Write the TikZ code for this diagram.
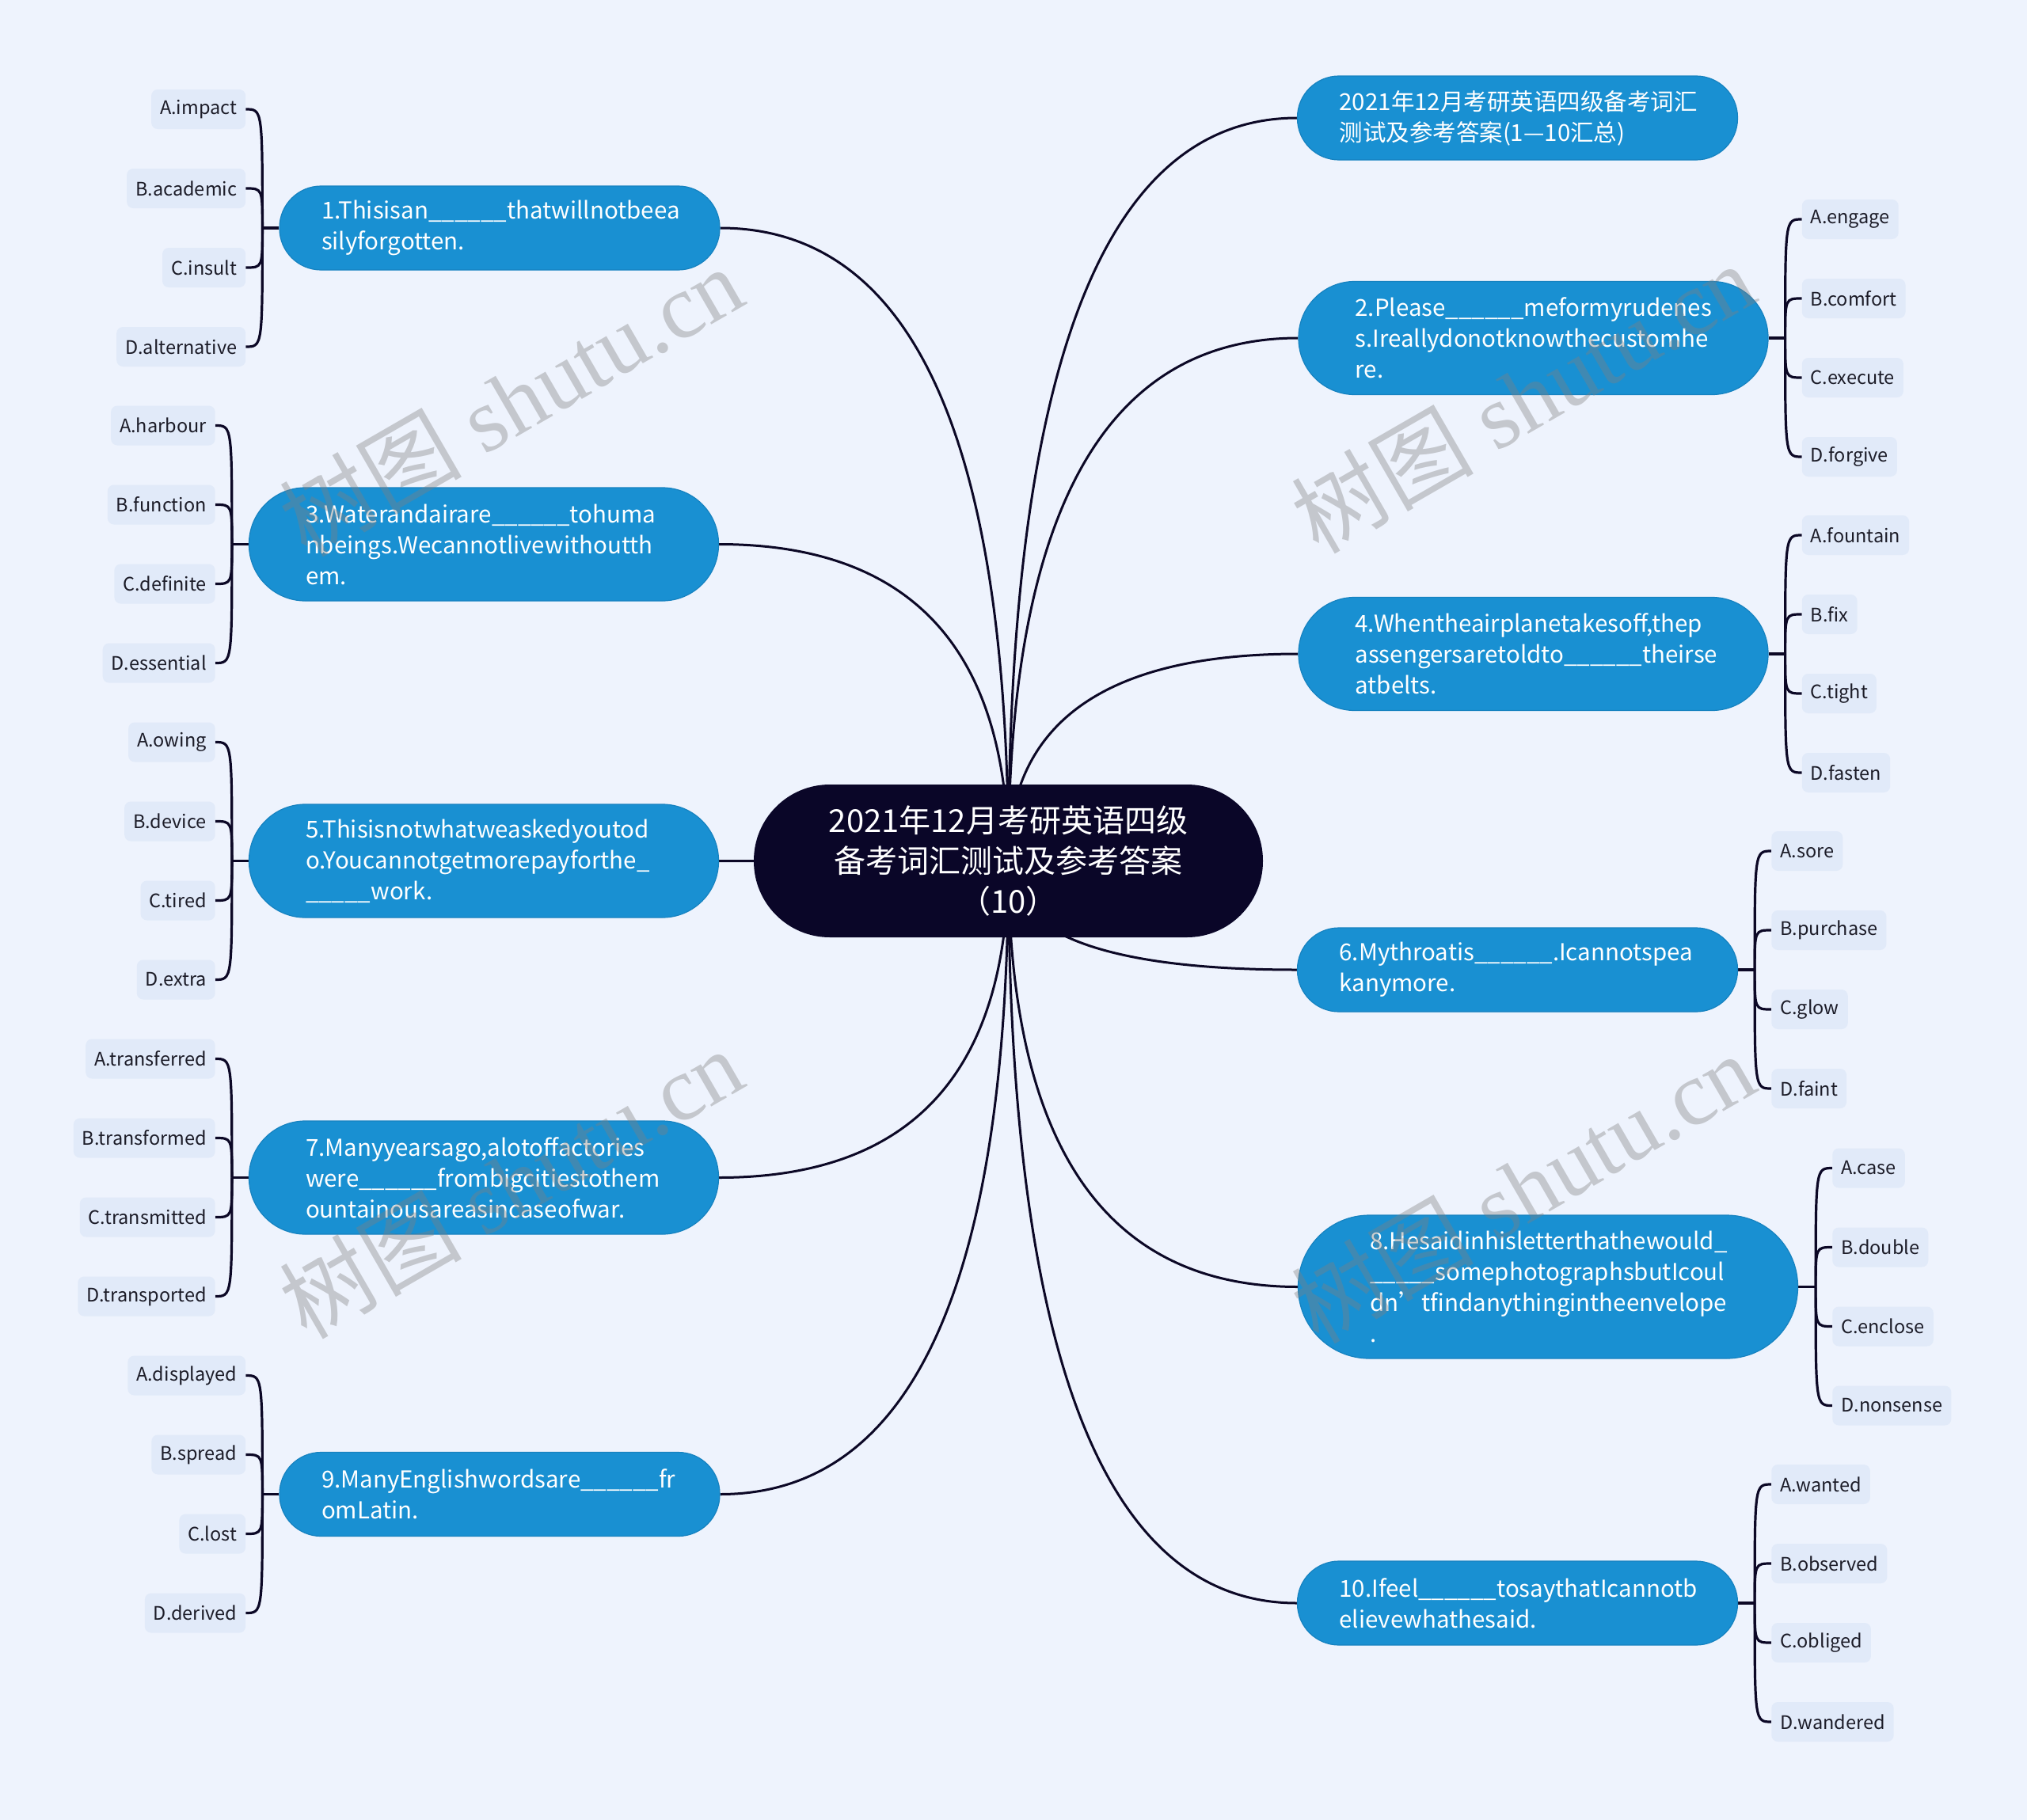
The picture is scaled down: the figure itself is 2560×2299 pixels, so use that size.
\documentclass[tikz,border=0pt]{standalone}
\usepackage{fontspec}
\setmainfont{Noto Sans CJK SC}
\newfontfamily\wmlat{Liberation Serif}
\newfontfamily\wmcjk{Noto Sans CJK SC}
\usetikzlibrary{calc}
\definecolor{bgc}{RGB}{238,243,253}
\definecolor{topicblue}{RGB}{25,144,210}
\definecolor{topicedge}{RGB}{22,130,192}
\definecolor{rootc}{RGB}{10,6,40}
\definecolor{linec}{RGB}{12,8,38}
\definecolor{leaffill}{RGB}{225,234,249}
\definecolor{leaftext}{RGB}{28,28,40}
\pgfdeclarelayer{bglayer}
\pgfdeclarelayer{edges}
\pgfsetlayers{bglayer,edges,main}
\newcommand\myblank{\_\_\_\_\_\_}
% #1 = root centre, #2 = topic anchor; bend corner at (root x, topic y)
\newcommand\mainlink[2]{\draw[conn] (#1) .. controls ($(#1)!0.6667!(#1|-#2)$) and ($(#2)!0.6667!(#1|-#2)$) .. (#2);}
\newcommand\leaflink[2]{\draw[bracec] (#1) .. controls (#1|-#2) .. (#2);}
\tikzset{
  topic/.style={fill=topicblue, draw=topicedge, line width=1.2pt, text=white, align=left,
    text width=450pt, inner ysep=0pt, font=\fontsize{29.5}{39}\selectfont},
  twol/.style={minimum height=106pt, inner xsep=53pt, rounded corners=52.5pt},
  threel/.style={minimum height=143pt, inner xsep=71.5pt, rounded corners=71pt},
  fourl/.style={minimum height=181pt, inner xsep=90.5pt, rounded corners=90pt},
  rootbox/.style={fill=rootc, text=white, align=center, minimum width=643pt, minimum height=193pt,
    rounded corners=96pt, inner sep=0pt, font=\fontsize{40}{51}\selectfont},
  leaf/.style={fill=leaffill, text=leaftext, rounded corners=8pt, minimum height=50pt,
    inner xsep=11pt, inner ysep=0pt, font=\fontsize{23.5}{28}\selectfont},
  conn/.style={draw=linec, line width=3pt},
  bracec/.style={draw=linec, line width=3.2pt},
  wm/.style={text=gray, opacity=0.38, font=\wmlat\fontsize{115}{115}\selectfont, rotate=30}
}
\begin{document}
\begin{tikzpicture}[x=1pt,y=-1pt]
\begin{pgfonlayer}{bglayer}
\fill[bgc] (0,0) rectangle (2560,2299);
\end{pgfonlayer}
\useasboundingbox (0,0) rectangle (2560,2299);

% root
\node[rootbox] (C) at (1273.5,1087.5) {2021年12月考研英语四级\\备考词汇测试及参考答案\\（10）};

% topics
\node[topic,twol] (T0) at (1916.5,149) {2021年12月考研英语四级备考词汇\\测试及参考答案(1—10汇总)};
\node[topic,twol] (T1) at (631,288) {1.Thisisan\myblank thatwillnotbeea\\silyforgotten.};
\node[topic,threel] (T2) at (1936.5,427) {2.Please\myblank meformyrudenes\\s.Ireallydonotknowthecustomhe\\re.};
\node[topic,threel] (T3) at (611,687.5) {3.Waterandairare\myblank tohuma\\nbeings.Wecannotlivewithoutth\\em.};
\node[topic,threel] (T4) at (1936.5,826) {4.Whentheairplanetakesoff,thep\\assengersaretoldto\myblank theirse\\atbelts.};
\node[topic,threel] (T5) at (611,1087.5) {5.Thisisnotwhatweaskedyoutod\\o.Youcannotgetmorepayforthe\_\\\_\_\_\_\_work.};
\node[topic,twol] (T6) at (1916.5,1225) {6.Mythroatis\myblank.Icannotspea\\kanymore.};
\node[topic,threel] (T7) at (611,1487.5) {7.Manyyearsago,alotoffactories\\were\myblank frombigcitiestothem\\ountainousareasincaseofwar.};
\node[topic,fourl] (T8) at (1955,1625.5) {8.Hesaidinhisletterthathewould\_\\\_\_\_\_\_somephotographsbutIcoul\\dn’tfindanythingintheenvelope\\.};
\node[topic,twol] (T9) at (631,1887.5) {9.ManyEnglishwordsare\myblank fr\\omLatin.};
\node[topic,twol] (T10) at (1916.5,2025) {10.Ifeel\myblank tosaythatIcannotb\\elievewhathesaid.};

% junctions
\coordinate (J1) at ($(T1.west)+(-21,0)$);
\coordinate (J3) at ($(T3.west)+(-21,0)$);
\coordinate (J5) at ($(T5.west)+(-21,0)$);
\coordinate (J7) at ($(T7.west)+(-21,0)$);
\coordinate (J9) at ($(T9.west)+(-21,0)$);
\coordinate (J2) at ($(T2.east)+(21,0)$);
\coordinate (J4) at ($(T4.east)+(21,0)$);
\coordinate (J6) at ($(T6.east)+(21,0)$);
\coordinate (J8) at ($(T8.east)+(22,0)$);
\coordinate (J10) at ($(T10.east)+(21,0)$);

% left leaves
\node[leaf,anchor=east] (L1a) at ($(J1)+(-21,-150)$) {A.impact};
\node[leaf,anchor=east] (L1b) at ($(J1)+(-21,-50)$) {B.academic};
\node[leaf,anchor=east] (L1c) at ($(J1)+(-21,50)$) {C.insult};
\node[leaf,anchor=east] (L1d) at ($(J1)+(-21,150)$) {D.alternative};
\node[leaf,anchor=east] (L3a) at ($(J3)+(-21,-150)$) {A.harbour};
\node[leaf,anchor=east] (L3b) at ($(J3)+(-21,-50)$) {B.function};
\node[leaf,anchor=east] (L3c) at ($(J3)+(-21,50)$) {C.definite};
\node[leaf,anchor=east] (L3d) at ($(J3)+(-21,150)$) {D.essential};
\node[leaf,anchor=east] (L5a) at ($(J5)+(-21,-150)$) {A.owing};
\node[leaf,anchor=east] (L5b) at ($(J5)+(-21,-50)$) {B.device};
\node[leaf,anchor=east] (L5c) at ($(J5)+(-21,50)$) {C.tired};
\node[leaf,anchor=east] (L5d) at ($(J5)+(-21,150)$) {D.extra};
\node[leaf,anchor=east] (L7a) at ($(J7)+(-21,-150)$) {A.transferred};
\node[leaf,anchor=east] (L7b) at ($(J7)+(-21,-50)$) {B.transformed};
\node[leaf,anchor=east] (L7c) at ($(J7)+(-21,50)$) {C.transmitted};
\node[leaf,anchor=east] (L7d) at ($(J7)+(-21,150)$) {D.transported};
\node[leaf,anchor=east] (L9a) at ($(J9)+(-21,-150)$) {A.displayed};
\node[leaf,anchor=east] (L9b) at ($(J9)+(-21,-50)$) {B.spread};
\node[leaf,anchor=east] (L9c) at ($(J9)+(-21,50)$) {C.lost};
\node[leaf,anchor=east] (L9d) at ($(J9)+(-21,150)$) {D.derived};
% right leaves
\node[leaf,anchor=west] (L2a) at ($(J2)+(21,-150)$) {A.engage};
\node[leaf,anchor=west] (L2b) at ($(J2)+(21,-50)$) {B.comfort};
\node[leaf,anchor=west] (L2c) at ($(J2)+(21,50)$) {C.execute};
\node[leaf,anchor=west] (L2d) at ($(J2)+(21,150)$) {D.forgive};
\node[leaf,anchor=west] (L4a) at ($(J4)+(21,-150)$) {A.fountain};
\node[leaf,anchor=west] (L4b) at ($(J4)+(21,-50)$) {B.fix};
\node[leaf,anchor=west] (L4c) at ($(J4)+(21,50)$) {C.tight};
\node[leaf,anchor=west] (L4d) at ($(J4)+(21,150)$) {D.fasten};
\node[leaf,anchor=west] (L6a) at ($(J6)+(21,-150)$) {A.sore};
\node[leaf,anchor=west] (L6b) at ($(J6)+(21,-50)$) {B.purchase};
\node[leaf,anchor=west] (L6c) at ($(J6)+(21,50)$) {C.glow};
\node[leaf,anchor=west] (L6d) at ($(J6)+(21,150)$) {D.faint};
\node[leaf,anchor=west] (L8a) at ($(J8)+(21,-150)$) {A.case};
\node[leaf,anchor=west] (L8b) at ($(J8)+(21,-50)$) {B.double};
\node[leaf,anchor=west] (L8c) at ($(J8)+(21,50)$) {C.enclose};
\node[leaf,anchor=west] (L8d) at ($(J8)+(21,150)$) {D.nonsense};
\node[leaf,anchor=west] (L10a) at ($(J10)+(21,-150)$) {A.wanted};
\node[leaf,anchor=west] (L10b) at ($(J10)+(21,-50)$) {B.observed};
\node[leaf,anchor=west] (L10c) at ($(J10)+(21,50)$) {C.obliged};
\node[leaf,anchor=west] (L10d) at ($(J10)+(21,150)$) {D.wandered};

\begin{pgfonlayer}{edges}
% root to topics
\mainlink{C.center}{T1.east}
\mainlink{C.center}{T3.east}
\mainlink{C.center}{T5.east}
\mainlink{C.center}{T7.east}
\mainlink{C.center}{T9.east}
\mainlink{C.center}{T0.west}
\mainlink{C.center}{T2.west}
\mainlink{C.center}{T4.west}
\mainlink{C.center}{T6.west}
\mainlink{C.center}{T8.west}
\mainlink{C.center}{T10.west}
% topic to junction
\draw[bracec] (T1.west) -- (J1);
\draw[bracec] (T3.west) -- (J3);
\draw[bracec] (T5.west) -- (J5);
\draw[bracec] (T7.west) -- (J7);
\draw[bracec] (T9.west) -- (J9);
\draw[bracec] (T2.east) -- (J2);
\draw[bracec] (T4.east) -- (J4);
\draw[bracec] (T6.east) -- (J6);
\draw[bracec] (T8.east) -- (J8);
\draw[bracec] (T10.east) -- (J10);
% braces
\foreach \j/\t in {1/L1,3/L3,5/L5,7/L7,9/L9}{
  \foreach \s in {a,b,c,d}{\leaflink{J\j}{\t\s.east}}
}
\foreach \j/\t in {2/L2,4/L4,6/L6,8/L8,10/L10}{
  \foreach \s in {a,b,c,d}{\leaflink{J\j}{\t\s.west}}
}
\end{pgfonlayer}

% watermarks
\node[wm] (W1) at (645,506) {{\wmcjk 树图} shutu.cn};
\node[wm] (W2) at (1923,502) {{\wmcjk 树图} shutu.cn};
\node[wm] (W3) at (645,1494) {{\wmcjk 树图} shutu.cn};
\node[wm] (W4) at (1923,1500) {{\wmcjk 树图} shutu.cn};
\end{tikzpicture}
\end{document}
